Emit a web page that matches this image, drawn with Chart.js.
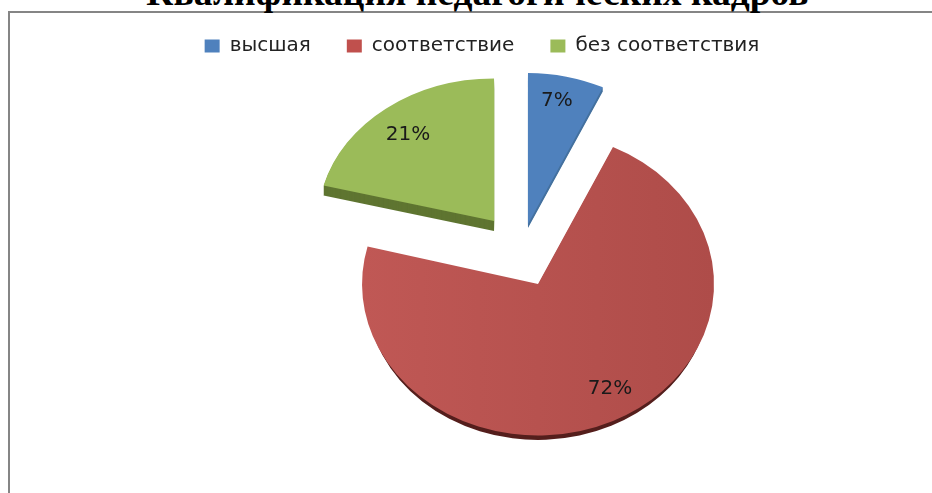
<!DOCTYPE html>
<html lang="ru">
<head>
<meta charset="utf-8">
<title>Квалификация педагогических кадров</title>
<script src="https://cdn.jsdelivr.net/npm/chart.js@4"></script>
<style>
  html, body { margin: 0; padding: 0; background: #fff; overflow: hidden; }
  #wrap { position: relative; width: 932px; height: 493px; overflow: hidden; }
  #frame { position: absolute; left: 8px; top: 11px; width: 930px; height: 500px; border: 2px solid #858585; box-sizing: border-box; }
  #title { position: absolute; left: 0; top: -26px; width: 955px; text-align: center; font: bold 37.5px/38px "Liberation Serif", serif; color: #000; white-space: nowrap; }
  canvas { position: absolute; left: 0; top: 0; }
</style>
</head>
<body>
<div id="wrap">
  <div id="frame"></div>
  <div id="title">Квалификация педагогических кадров</div>
  <canvas id="chart" width="932" height="493"></canvas>
</div>
<script>
const categories = ['высшая', 'соответствие', 'без соответствия'];
const shares = [7, 72, 21];
const depthColors = ['#44719F', '#551F1D', '#5F7531'];

// how far each slice is pulled out of the pie, and a small fix for the fake perspective
const sliceExplode = [32, 40, 44];
const sliceNudge = [-5.2, -3.1, -6.8];
// squash and rim height differ per slice, the original is drawn in perspective
const sliceTilt = [0.858, 0.86, 0.81];
const sliceDepth = [4, 8, 10];
// rim copies are a bit smaller so the rim of the big slice fades out at the sides
const rimInset = [0, 4, 0];
// label spot inside a slice: share of the radius, turn from the middle of the slice in degrees
const labelRadius = [0.835, 0.805, 0.78];
const labelTurn = [-1.3, -5.3, -1];

const pieX = 521;
const pieY = 256;

const midAngle = (arc) => (arc.startAngle + arc.endAngle) / 2;

const canvas = document.getElementById('chart');
const redShade = canvas.getContext('2d').createLinearGradient(362, 0, 714, 0);
redShade.addColorStop(0, '#C05855');
redShade.addColorStop(1, '#AE4C49');
const sliceColors = ['#4F81BD', redShade, '#9BBB59'];

const tiltPlugin = {
  id: 'tilt',
  afterDatasetsUpdate(chart) {
    chart.getDatasetMeta(0).data.forEach((arc, i) => {
      arc.x = pieX + Math.cos(midAngle(arc)) * sliceExplode[i];
      arc.y = Math.sin(midAngle(arc)) * sliceExplode[i] * sliceTilt[i] + sliceNudge[i];
    });
  },
  // draws the arcs here instead of in the controller, each one needs its own transform
  beforeDatasetDraw(chart) {
    const ctx = chart.ctx;
    const arcs = chart.getDatasetMeta(0).data;
    const drawArc = (arc, i, shift) => {
      ctx.save();
      ctx.translate(0, pieY + arc.y + shift);
      ctx.scale(1, sliceTilt[i]);
      ctx.translate(0, -arc.y);
      arc.draw(ctx);
      ctx.restore();
    };
    arcs.forEach((arc, i) => {
      const opts = arc.options;
      const radius = arc.outerRadius;
      arc.options = Object.assign({}, opts, { backgroundColor: depthColors[i] });
      arc.outerRadius = radius - rimInset[i];
      for (let d = sliceDepth[i]; d > 0; d--) drawArc(arc, i, d);
      arc.options = opts;
      arc.outerRadius = radius;
    });
    arcs.forEach((arc, i) => drawArc(arc, i, 0));
    return false;
  },
  afterDatasetsDraw(chart) {
    const ctx = chart.ctx;
    ctx.save();
    ctx.fillStyle = '#1a1a1a';
    ctx.font = '20px "DejaVu Sans"';
    ctx.textAlign = 'center';
    ctx.textBaseline = 'middle';
    chart.getDatasetMeta(0).data.forEach((arc, i) => {
      const angle = midAngle(arc) + labelTurn[i] * Math.PI / 180;
      const r = arc.outerRadius * labelRadius[i];
      const x = arc.x + Math.cos(angle) * r;
      const y = pieY + arc.y + Math.sin(angle) * r * sliceTilt[i];
      ctx.fillText(shares[i] + '%', x, y);
    });
    ctx.restore();
  }
};

new Chart(canvas, {
  type: 'pie',
  data: {
    labels: categories,
    datasets: [{
      data: shares,
      backgroundColor: sliceColors,
      borderWidth: 0,
      radius: 176
    }]
  },
  options: {
    responsive: false,
    animation: false,
    devicePixelRatio: 1,
    layout: { padding: { left: 32 } },
    plugins: {
      tooltip: { enabled: false },
      legend: {
        position: 'top',
        labels: {
          boxWidth: 15,
          boxHeight: 13,
          padding: 36,
          color: '#222',
          font: { family: '"DejaVu Sans"', size: 20 },
          generateLabels(chart) {
            // the legend swatch of the shaded slice stays a plain colour
            const items = Chart.overrides.pie.plugins.legend.labels.generateLabels(chart);
            items[1].fillStyle = '#C0504D';
            return items;
          }
        }
      }
    }
  },
  plugins: [tiltPlugin]
});
</script>
</body>
</html>
